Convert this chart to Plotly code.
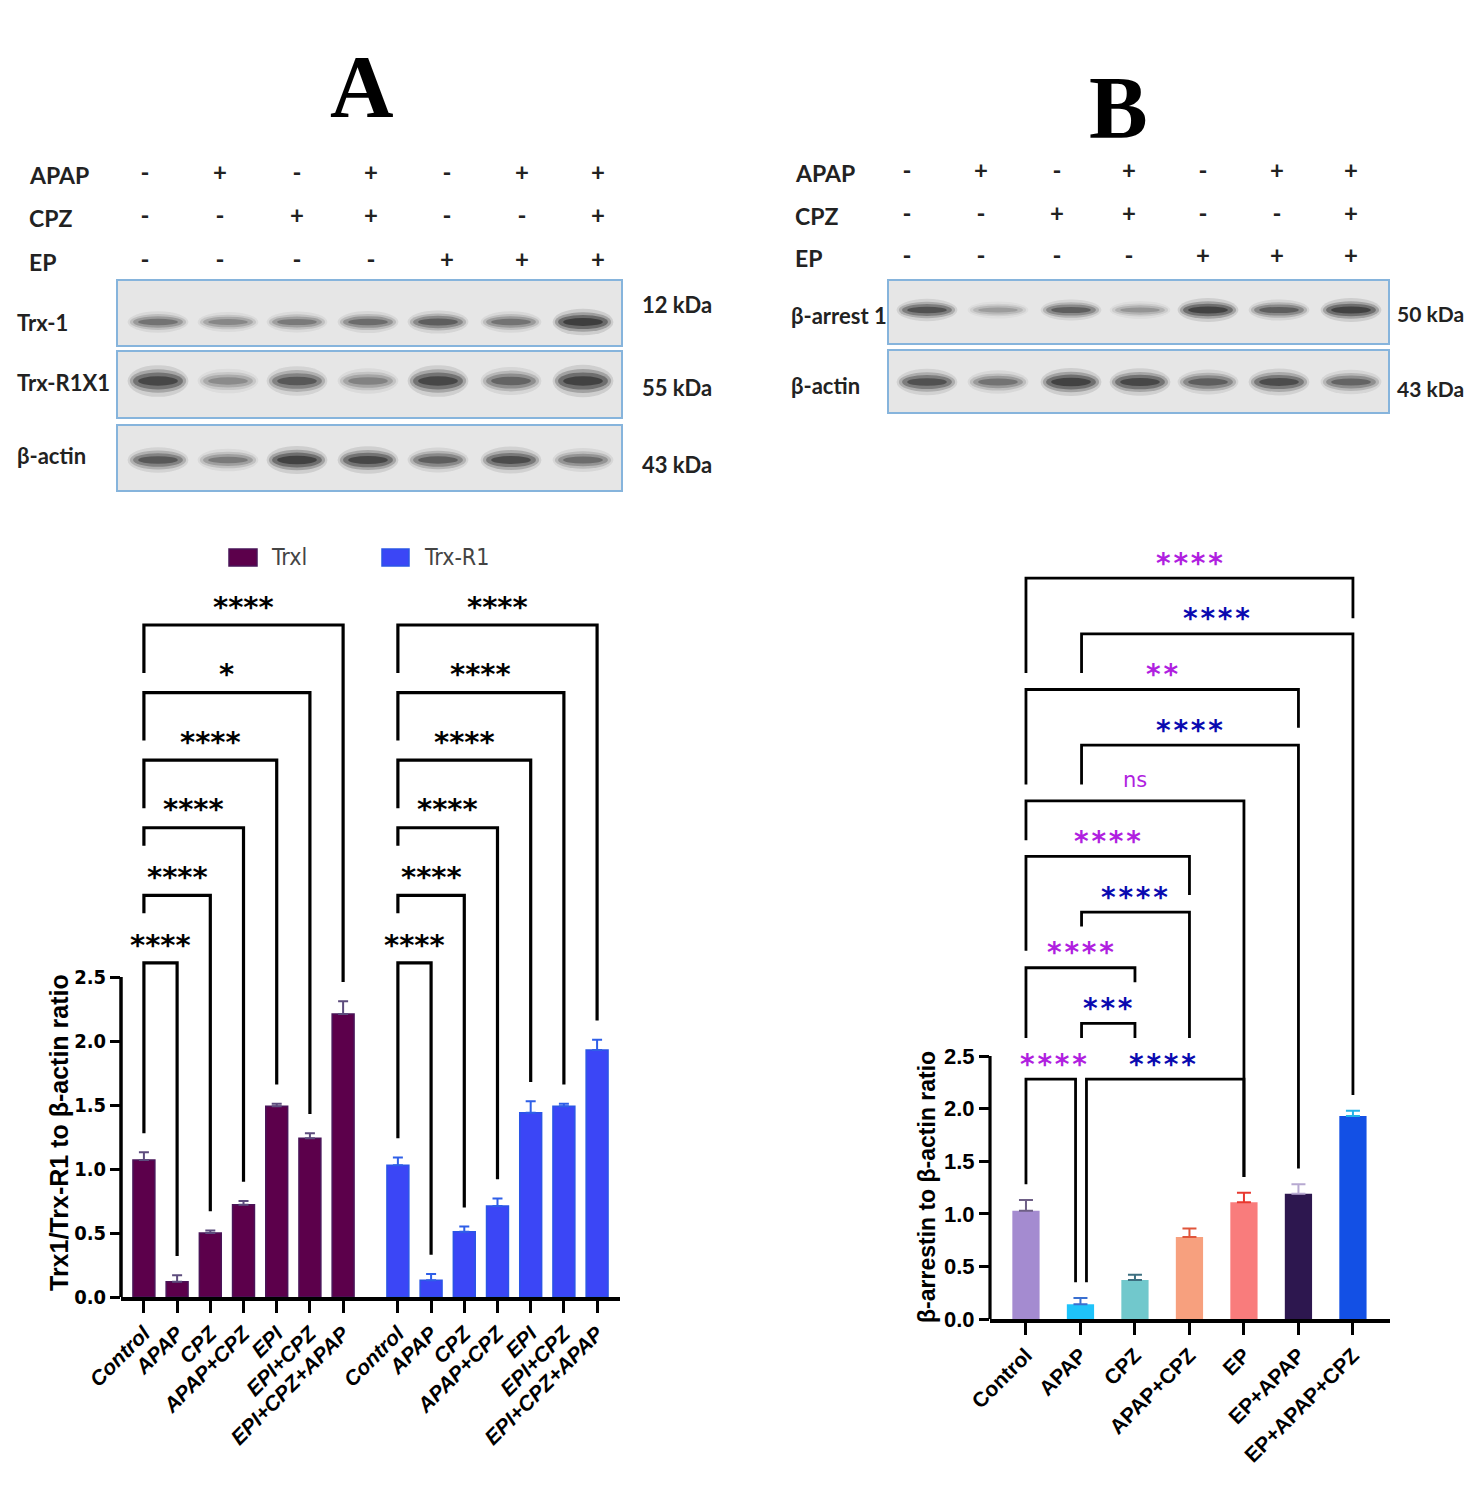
import plotly.graph_objects as go

# ---------------- data ----------------
treatments_A = ["Control", "APAP", "CPZ", "APAP+CPZ", "EPI", "EPI+CPZ", "EPI+CPZ+APAP"]
series_A = ["Trxl", "Trx-R1"]
trx1_mean = [1.07, 0.12, 0.50, 0.72, 1.49, 1.24, 2.21]
trx1_sem = [0.06, 0.05, 0.02, 0.03, 0.02, 0.04, 0.10]
trxr1_mean = [1.03, 0.13, 0.51, 0.71, 1.44, 1.49, 1.93]
trxr1_sem = [0.06, 0.05, 0.04, 0.06, 0.09, 0.02, 0.08]
sig_trx1_vs_control = ["****", "****", "****", "****", "*", "****"]
sig_trxr1_vs_control = ["****", "****", "****", "****", "****", "****"]

treatments_B = ["Control", "APAP", "CPZ", "APAP+CPZ", "EP", "EP+APAP", "EP+APAP+CPZ"]
barr_mean = [1.03, 0.14, 0.37, 0.78, 1.11, 1.19, 1.93]
barr_sem = [0.10, 0.06, 0.05, 0.08, 0.09, 0.09, 0.05]
comparisons_B = [
    ("Control", "APAP", "****"),
    ("APAP", "EP", "****"),
    ("APAP", "CPZ", "***"),
    ("Control", "CPZ", "****"),
    ("APAP", "APAP+CPZ", "****"),
    ("Control", "APAP+CPZ", "****"),
    ("Control", "EP", "ns"),
    ("APAP", "EP+APAP", "****"),
    ("Control", "EP+APAP", "**"),
    ("APAP", "EP+APAP+CPZ", "****"),
    ("Control", "EP+APAP+CPZ", "****"),
]
yticks = [0.0, 0.5, 1.0, 1.5, 2.0, 2.5]

# western blot annotations (lane treatment signs and relative band intensities)
treat_rows = ["APAP", "CPZ", "EP"]
treat_signs = [["-", "+", "-", "+", "-", "+", "+"],
               ["-", "-", "+", "+", "-", "-", "+"],
               ["-", "-", "-", "-", "+", "+", "+"]]
blotA_rows = ["Trx-1", "Trx-R1X1", "β-actin"]
blotA_kda = ["12 kDa", "55 kDa", "43 kDa"]
blotA_bands = [[0.55, 0.42, 0.50, 0.60, 0.70, 0.55, 1.00],
               [0.90, 0.40, 0.75, 0.45, 0.90, 0.65, 0.95],
               [0.75, 0.50, 0.95, 0.90, 0.70, 0.85, 0.60]]
blotB_rows = ["β-arrest 1", "β-actin"]
blotB_kda = ["50 kDa", "43 kDa"]
blotB_bands = [[0.80, 0.30, 0.70, 0.35, 0.95, 0.70, 0.95],
               [0.80, 0.55, 0.95, 0.90, 0.70, 0.85, 0.65]]

# ---------------- styles ----------------
ARIAL = "Arial, Liberation Sans, sans-serif"
NARROW = "Liberation Sans Narrow, Arial Narrow, DejaVu Sans Condensed, Liberation Sans, sans-serif"
CAL = "Lato, Open Sans, sans-serif"
STAR = "DejaVu Sans, sans-serif"
C_TRX1, C_TRX1_LINE, C_TRX1_ERR = "#5c004b", "#4a1458", "#5d4c7d"
C_TRXR1, C_TRXR1_LINE, C_TRXR1_ERR = "#3b46f6", "#2b55e6", "#2f5fe8"
colors_B = ["#a48bd0", "#1fc3fa", "#71c8cc", "#f7a07e", "#f97c7c", "#2d174f", "#1350e5"]
errcol_B = ["#6e5f86", "#3a6fd0", "#3c6f80", "#e0553a", "#e8382f", "#b7a9d1", "#25b3e8"]
MAGENTA, NAVY = "#b01fe0", "#0a0ab0"
HAIR = "\u200a"

fig = go.Figure()

# ---------------- panel A bars ----------------
GAP = 0.65
pos_trx1 = [i for i in range(len(treatments_A))]
pos_trxr1 = [len(treatments_A) + GAP + i for i in range(len(treatments_A))]
zeros = [0] * len(treatments_A)

fig.add_trace(go.Bar(x=pos_trx1, y=trx1_mean, width=0.66, name=series_A[0],
                     marker=dict(color=C_TRX1, line=dict(color=C_TRX1_LINE, width=1.5)),
                     error_y=dict(type="data", symmetric=False, array=trx1_sem, arrayminus=zeros,
                                  color=C_TRX1_ERR, thickness=2, width=5),
                     xaxis="x", yaxis="y", showlegend=False))
fig.add_trace(go.Bar(x=pos_trxr1, y=trxr1_mean, width=0.66, name=series_A[1],
                     marker=dict(color=C_TRXR1, line=dict(color=C_TRXR1_LINE, width=1.5)),
                     error_y=dict(type="data", symmetric=False, array=trxr1_sem, arrayminus=zeros,
                                  color=C_TRXR1_ERR, thickness=2, width=5),
                     xaxis="x", yaxis="y", showlegend=False))

annotations = []
shapes = []


def bracket(xl, xr, lev, ls, rs, xaxis, yaxis, width):
    fig.add_trace(go.Scatter(x=[xl, xl, xr, xr], y=[ls, lev, lev, rs], mode="lines",
                             line=dict(color="black", width=width), hoverinfo="skip",
                             showlegend=False, xaxis=xaxis, yaxis=yaxis))


LEV0_A, STEP_A = 2.61, 0.528
left_drop_A = [None, 0.14, 0.14, 0.375, 0.375, 0.375]
for pos, mean, sem, sigs in [(pos_trx1, trx1_mean, trx1_sem, sig_trx1_vs_control),
                             (pos_trxr1, trxr1_mean, trxr1_sem, sig_trxr1_vs_control)]:
    for k, lab in enumerate(sigs):
        j = k + 1
        lev = LEV0_A + STEP_A * k
        ls = mean[0] + sem[0] + 0.15 if left_drop_A[k] is None else lev - left_drop_A[k]
        rs = mean[j] + sem[j] + 0.15
        bracket(pos[0], pos[j], lev, ls, rs, "x", "y", 3.2)
        annotations.append(dict(x=(pos[0] + pos[j]) / 2, y=lev + 0.19, xref="x", yref="y",
                                text=lab, showarrow=False, yshift=-6,
                                font=dict(family=STAR, size=29, color="black", weight="bold")))

# y axis line only up to 2.5
shapes.append(dict(type="line", xref="x domain", yref="y", x0=0, x1=0, y0=-0.02, y1=2.5,
                   line=dict(color="black", width=3.5)))

# ---------------- panel B bars ----------------
pos_B = list(range(len(treatments_B)))
for i, t in enumerate(treatments_B):
    fig.add_trace(go.Bar(x=[pos_B[i]], y=[barr_mean[i]], width=0.5, name=t,
                         marker=dict(color=colors_B[i], line=dict(width=0)),
                         error_y=dict(type="data", symmetric=False, array=[barr_sem[i]], arrayminus=[0],
                                      color=errcol_B[i], thickness=2, width=7),
                         xaxis="x2", yaxis="y2", showlegend=False))

LEV0_B, STEP_B = 2.281, 0.529
# bracket drawing layout: (level index, left-leg stop, right-leg stop, left x offset, right x offset)
bracket_layout_B = [(0, None, None, 0.0, -0.09), (0, None, None, 0.11, 0.0),
                    (1, 2.67, 2.67, 0.02, 0.0), (2, 2.67, 3.20, 0.0, 0.0),
                    (3, 3.73, 2.67, 0.02, 0.0), (4, 3.50, 4.03, 0.0, 0.0),
                    (5, 4.55, None, 0.0, 0.0), (6, 5.08, None, 0.02, 0.0),
                    (7, 5.08, 5.62, 0.0, 0.0), (8, 6.14, None, 0.02, 0.0),
                    (9, 6.14, 6.66, 0.0, 0.0)]
for (g1, g2, lab), (li, ls, rs, dl, dr) in zip(comparisons_B, bracket_layout_B):
    a, b = treatments_B.index(g1), treatments_B.index(g2)
    lev = LEV0_B + STEP_B * li
    if ls is None:
        ls = barr_mean[a] + barr_sem[a] + 0.15
    if rs is None:
        rs = barr_mean[b] + barr_sem[b] + 0.15
    bracket(pos_B[a] + dl, pos_B[b] + dr, lev, ls, rs, "x2", "y2", 2.8)
    col = MAGENTA if g1 == "Control" else NAVY
    if lab == "ns":
        fnt = dict(family=STAR, size=21, color=col)
        ys, txt = 0, lab
    else:
        fnt = dict(family=STAR, size=28, color=col, weight="bold")
        ys, txt = -6, HAIR.join(lab)
    annotations.append(dict(x=(pos_B[a] + pos_B[b]) / 2, y=lev + 0.2, xref="x2", yref="y2",
                            text=txt, showarrow=False, yshift=ys, font=fnt))

shapes.append(dict(type="line", xref="x2 domain", yref="y2", x0=0, x1=0, y0=-0.02, y1=2.5,
                   line=dict(color="black", width=3.2)))

# ---------------- overlay (page) elements ----------------
laneA = [145, 220, 297, 371, 447, 522, 598]
laneB = [907, 981, 1057, 1129, 1203, 1277, 1351]
bandsA_x = [158, 228, 297, 368, 438, 511, 583]
bandsB_x = [927, 998, 1071, 1140, 1208, 1279, 1351]
rowyA = [175, 218, 262]
rowyB = [173, 216, 258]
sx, sy, st = [], [], []
for lanes, rows in [(laneA, rowyA), (laneB, rowyB)]:
    for r, signs in enumerate(treat_signs):
        for l, s in enumerate(signs):
            sx.append(lanes[l]); sy.append(rows[r]); st.append(s)
fig.add_trace(go.Scatter(x=sx, y=sy, text=st, mode="text", hoverinfo="skip", showlegend=False,
                         textfont=dict(family=CAL, size=24, color="#222", weight="bold"),
                         xaxis="x3", yaxis="y3"))

for rows, rowy, x0 in [(treat_rows, rowyA, 27), (treat_rows, rowyB, 793)]:
    for r, name in enumerate(rows):
        annotations.append(dict(x=x0, y=rowy[r], xref="x3", yref="y3", text=name, showarrow=False,
                                xanchor="left", font=dict(family=CAL, size=23, color="#222", weight="bold")))


def blot(lanes, xl, xr, boxes, bands, band_y, band_h):
    for (y0, y1), inten, by, bh in zip(boxes, bands, band_y, band_h):
        shapes.append(dict(type="rect", xref="x3", yref="y3", x0=xl, x1=xr, y0=y0, y1=y1,
                           fillcolor="#e6e6e6", line=dict(color="#86b4dc", width=2)))
        for l, I in enumerate(inten):
            cx = lanes[l]
            h = bh * (0.75 + 0.55 * I)
            for wf, hf, op in [(0.95, 1.7, 0.12), (0.88, 1.25, 0.25), (0.78, 0.9, 0.4), (0.62, 0.5, 0.55)]:
                w = 64 * wf
                shapes.append(dict(type="circle", xref="x3", yref="y3",
                                   x0=cx - w / 2, x1=cx + w / 2, y0=by - h * hf / 2, y1=by + h * hf / 2,
                                   fillcolor="#1a1a1a", opacity=op * I, line=dict(width=0)))


blot(bandsA_x, 117, 622, [(280, 346), (351, 418), (425, 491)], blotA_bands, [322, 381, 460], [12, 15, 13])
blot(bandsB_x, 888, 1389, [(280, 344), (350, 413)], blotB_bands, [310, 382], [11, 13])

for name, y in zip(blotA_rows, [322, 382, 455]):
    annotations.append(dict(x=15, y=y, xref="x3", yref="y3", text=name, showarrow=False, xanchor="left",
                            font=dict(family=CAL, size=22, color="#222", weight="bold")))
for name, y in zip(blotA_kda, [304, 387, 464]):
    annotations.append(dict(x=640, y=y, xref="x3", yref="y3", text=name, showarrow=False, xanchor="left",
                            font=dict(family=CAL, size=22, color="#222", weight="bold")))
for name, y in zip(blotB_rows, [315, 385]):
    annotations.append(dict(x=789, y=y, xref="x3", yref="y3", text=name, showarrow=False, xanchor="left",
                            font=dict(family=CAL, size=22, color="#222", weight="bold")))
for name, y in zip(blotB_kda, [313, 388]):
    annotations.append(dict(x=1395, y=y, xref="x3", yref="y3", text=name, showarrow=False, xanchor="left",
                            font=dict(family=CAL, size=21, color="#222", weight="bold")))

# panel letters
annotations.append(dict(x=362, y=86, xref="x3", yref="y3", text="A", showarrow=False,
                        font=dict(family="Liberation Serif, Times New Roman, serif", size=88, color="black", weight="bold")))
annotations.append(dict(x=1118, y=107, xref="x3", yref="y3", text="B", showarrow=False,
                        font=dict(family="Liberation Serif, Times New Roman, serif", size=88, color="black", weight="bold")))

# legend for panel A
for (x0, x1, tx), col, lcol, name in [((229, 257, 269), C_TRX1, C_TRX1_LINE, series_A[0]),
                                       ((382, 409, 422), C_TRXR1, C_TRXR1_LINE, series_A[1])]:
    shapes.append(dict(type="rect", xref="x3", yref="y3", x0=x0, x1=x1, y0=549, y1=566,
                       fillcolor=col, line=dict(color=lcol, width=1.5)))
    annotations.append(dict(x=tx, y=557, xref="x3", yref="y3", text=name, showarrow=False, xanchor="left",
                            font=dict(family=NARROW, size=23, color="#444")))

# y axis titles
annotations.append(dict(x=59, y=1133, xref="x3", yref="y3", text="Trx1/Trx-R1 to β-actin ratio",
                        textangle=-90, showarrow=False,
                        font=dict(family=ARIAL, size=25, color="black", weight="bold")))
annotations.append(dict(x=927, y=1187, xref="x3", yref="y3", text="β-arrestin to β-actin ratio",
                        textangle=-90, showarrow=False,
                        font=dict(family=ARIAL, size=23, color="black", weight="bold")))

W, H = 1483, 1488
fig.update_layout(
    width=W, height=H, margin=dict(l=0, r=0, t=0, b=0, pad=0, autoexpand=False), autosize=False,
    paper_bgcolor="white", plot_bgcolor="rgba(0,0,0,0)", barmode="overlay", showlegend=False,
    xaxis=dict(domain=[121 / W, 620 / W], anchor="y", range=[-0.69, pos_trxr1[-1] + 0.69],
               tickvals=pos_trx1 + pos_trxr1, ticktext=treatments_A + treatments_A, tickangle=-45,
               ticks="outside", ticklen=12, tickwidth=3, tickcolor="black", automargin=False,
               showline=True, linewidth=4, linecolor="black", showgrid=False, zeroline=False,
               tickfont=dict(family=ARIAL, size=21, color="black", weight="bold", style="italic")),
    yaxis=dict(domain=[1 - 1297 / H, 1 - 577 / H], anchor="x", range=[0, 5.625], automargin=False,
               tickvals=yticks, ticktext=[f"{v:.1f}" for v in yticks],
               ticks="outside", ticklen=10, tickwidth=3, tickcolor="black",
               showline=False, showgrid=False, zeroline=False,
               tickfont=dict(family=NARROW, size=20, color="black", weight="bold")),
    xaxis2=dict(domain=[990 / W, 1390 / W], anchor="y2", range=[-0.66, 6.68], automargin=False,
                tickvals=pos_B, ticktext=treatments_B, tickangle=-45,
                ticks="outside", ticklen=12, tickwidth=3, tickcolor="black",
                showline=True, linewidth=3.5, linecolor="black", showgrid=False, zeroline=False,
                tickfont=dict(family=ARIAL, size=21, color="black", weight="bold")),
    yaxis2=dict(domain=[1 - 1319 / H, 1 - 530 / H], anchor="x2", range=[0, 7.5], automargin=False,
                tickvals=yticks, ticktext=[f"{v:.1f}" for v in yticks],
                ticks="outside", ticklen=10, tickwidth=3, tickcolor="black",
                showline=False, showgrid=False, zeroline=False,
                tickfont=dict(family=ARIAL, size=22, color="black", weight="bold")),
    xaxis3=dict(domain=[0, 1], anchor="y3", range=[0, W], visible=False, fixedrange=True, automargin=False),
    yaxis3=dict(domain=[0, 1], anchor="x3", range=[H, 0], visible=False, fixedrange=True, automargin=False),
    shapes=shapes, annotations=annotations,
)

fig.write_html("out.html", config={"displayModeBar": False},
               post_script="document.body.style.margin='0';document.body.style.overflow='hidden';")
